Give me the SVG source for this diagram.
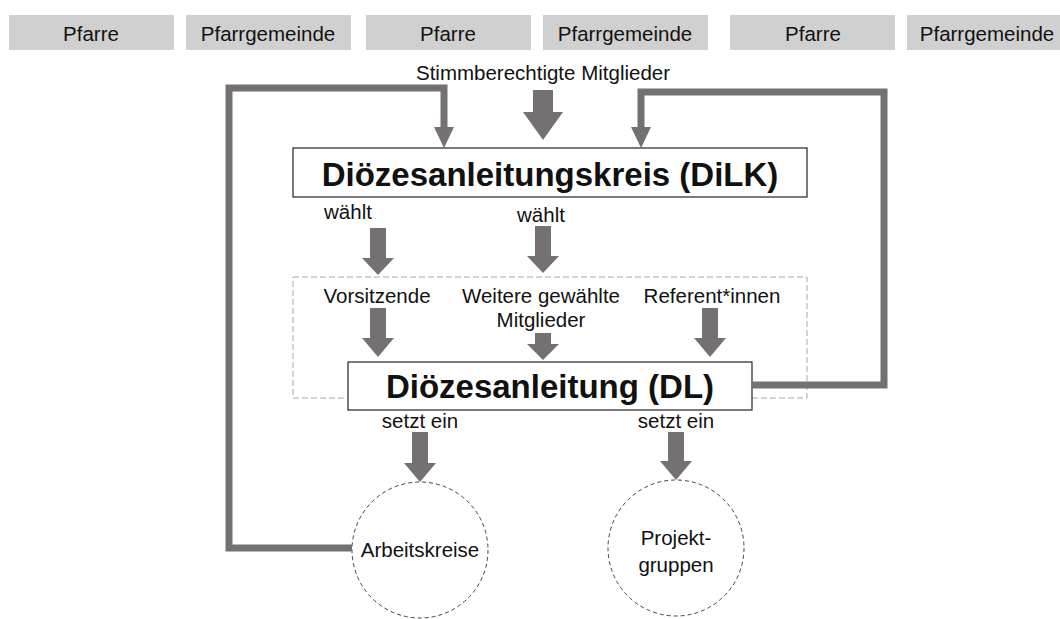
<svg xmlns="http://www.w3.org/2000/svg" width="1060" height="619" viewBox="0 0 1060 619">
<style>
text{font-family:"Liberation Sans",Arial,sans-serif;fill:#111;text-anchor:middle}
.lbl{font-size:20.5px}
.title{font-size:33px;font-weight:bold}
.top{fill:#d1d0d1}
.box{fill:#fff;stroke:#222;stroke-width:1.2}
.dash{fill:none;stroke:#a8a8a8;stroke-width:1;stroke-dasharray:6 3}
.circ{fill:#fff;stroke:#444;stroke-width:1;stroke-dasharray:4 3}
.arr{fill:#767171}
.loop{fill:none;stroke:#767171;stroke-width:7}
</style>
<rect width="1060" height="619" fill="#fff"/>
<g id="top-row">
<g id="pfarre1"><rect class="top" x="9" y="15" width="165" height="35"/><text class="lbl" x="91" y="41">Pfarre</text></g>
<g id="pfarrgemeinde1"><rect class="top" x="186" y="15" width="165" height="35"/><text class="lbl" x="268" y="41">Pfarrgemeinde</text></g>
<g id="pfarre2"><rect class="top" x="366" y="15" width="165" height="35"/><text class="lbl" x="448" y="41">Pfarre</text></g>
<g id="pfarrgemeinde2"><rect class="top" x="543" y="15" width="165" height="35"/><text class="lbl" x="625" y="41">Pfarrgemeinde</text></g>
<g id="pfarre3"><rect class="top" x="730" y="15" width="165" height="35"/><text class="lbl" x="813" y="41">Pfarre</text></g>
<g id="pfarrgemeinde3"><rect class="top" x="907" y="15" width="165" height="35"/><text class="lbl" x="987" y="41">Pfarrgemeinde</text></g>
</g>
<g id="stimmberechtigte"><text class="lbl" x="543" y="80">Stimmberechtigte Mitglieder</text></g>
<g id="dl-group"><rect class="dash" x="293" y="277" width="514" height="121"/></g>
<g id="dilk"><rect class="box" x="293" y="148" width="514" height="49"/><text class="title" x="550" y="186">Diözesanleitungskreis (DiLK)</text></g>
<g id="vorsitzende"><text class="lbl" x="377" y="303">Vorsitzende</text></g>
<g id="weitere"><text class="lbl" x="541" y="303">Weitere gewählte</text><text class="lbl" x="541" y="327">Mitglieder</text></g>
<g id="referent"><text class="lbl" x="712" y="303">Referent*innen</text></g>
<g id="dl"><rect class="box" x="348" y="362" width="404" height="48"/><text class="title" x="550" y="398">Diözesanleitung (DL)</text></g>
<g id="arbeitskreise"><circle class="circ" cx="420" cy="550" r="68"/><text class="lbl" x="420" y="557">Arbeitskreise</text></g>
<g id="projektgruppen"><circle class="circ" cx="676" cy="548" r="68"/><text class="lbl" x="676" y="545">Projekt-</text><text class="lbl" x="676" y="572">gruppen</text></g>
<g id="connectors">
<path class="loop" d="M352 548H229V88H444V128"/>
<polygon class="arr" points="434,127 454,127 444,148"/>
<path class="loop" d="M752 385H884V92H641V128"/>
<polygon class="arr" points="631,127 651,127 641,148"/>
<polygon class="arr" points="533,90 553,90 553,112 563,112 543,140 523,112 533,112"/>
<polygon class="arr" points="370,228 386,228 386,258 394,258 378,275 362,258 370,258"/>
<polygon class="arr" points="535,226 551,226 551,256 559,256 543,273 527,256 535,256"/>
<polygon class="arr" points="370,308 386,308 386,338 394,338 378,357 362,338 370,338"/>
<polygon class="arr" points="535,333 551,333 551,344 559,344 543,360 527,344 535,344"/>
<polygon class="arr" points="702,308 718,308 718,338 726,338 710,357 694,338 702,338"/>
<polygon class="arr" points="412,432 428,432 428,463 436,463 420,482 404,463 412,463"/>
<polygon class="arr" points="668,432 684,432 684,461 692,461 676,480 660,461 668,461"/>
<text class="lbl" x="348" y="219">wählt</text>
<text class="lbl" x="541" y="222">wählt</text>
<text class="lbl" x="420" y="428">setzt ein</text>
<text class="lbl" x="676" y="428">setzt ein</text>
</g>
</svg>
